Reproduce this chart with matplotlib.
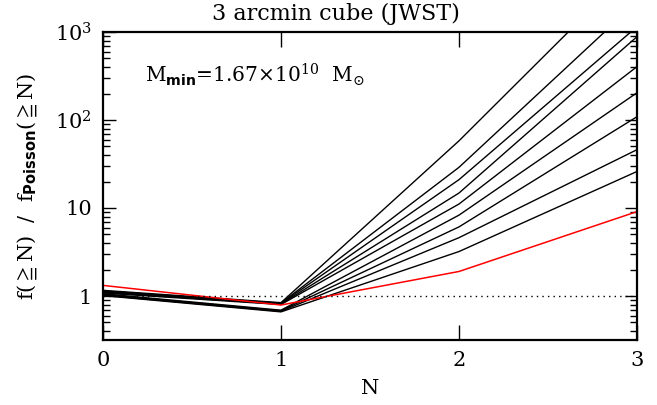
import matplotlib
matplotlib.use('Agg')
import matplotlib.pyplot as plt
from matplotlib.ticker import FixedLocator, LogLocator, NullFormatter, NullLocator

plt.rcParams['font.family'] = ['DejaVu Serif', 'DejaVu Sans']
plt.rcParams['mathtext.fontset'] = 'custom'
plt.rcParams['mathtext.rm'] = 'DejaVu Serif'
plt.rcParams['mathtext.it'] = 'DejaVu Serif:italic'
plt.rcParams['mathtext.bf'] = 'DejaVu Sans:bold'
plt.rcParams['mathtext.fallback'] = 'stix'

# number of objects N and the ratio f(>=N)/f_Poisson(>=N) for each model
n_vals = [0, 1, 2, 3]
ratio_n0 = [1.16, 1.14, 1.12, 1.10, 1.08, 1.06, 1.04, 1.02, 1.01]
ratio_n1 = [0.84, 0.83, 0.82, 0.81, 0.80, 0.69, 0.68, 0.67, 0.66]
ratio_n2 = [58, 29, 21, 14.8, 11.1, 8.3, 6.1, 4.6, 3.2]
ratio_n3 = [6000, 2200, 1150, 885, 404, 204, 109, 46, 26]
ratio_red = [1.32, 0.79, 1.9, 9.1]

y_ticks = [1, 10, 100, 1000]
y_labels = ['1', '10', '$10^2$', '$10^3$']

fig = plt.figure(figsize=(6.57, 4.05), dpi=100)
ax = fig.add_axes([103 / 657, 1 - 340 / 405, 534 / 657, 308 / 405])

for r0, r1, r2, r3 in zip(ratio_n0, ratio_n1, ratio_n2, ratio_n3):
    ax.plot(n_vals, [r0, r1, r2, r3], color='black', lw=1.0)
ax.plot(n_vals, ratio_red, color='red', lw=1.1)
ax.plot([0, 3], [1, 1], color='black', lw=1.0, linestyle=(0, (1, 3)))

ax.set_yscale('log')
ax.set_xlim(0, 3)
ax.set_ylim(10 ** -0.5, 1000)

ax.xaxis.set_major_locator(FixedLocator([0, 1, 2, 3]))
ax.xaxis.set_minor_locator(NullLocator())
ax.set_xticklabels(['0', '1', '2', '3'])
ax.yaxis.set_major_locator(FixedLocator(y_ticks))
ax.yaxis.set_minor_locator(LogLocator(base=10, subs=range(2, 10)))
ax.yaxis.set_minor_formatter(NullFormatter())
ax.set_yticklabels(y_labels)

ax.tick_params(which='both', direction='in', top=True, right=True, labelsize=15)
ax.tick_params(axis='x', which='major', length=11, width=1, pad=8)
ax.tick_params(axis='y', which='major', length=9, width=1, pad=8)
ax.tick_params(axis='y', which='minor', length=5, width=1)
for s in ax.spines.values():
    s.set_linewidth(1.6)

ax.set_xlabel('N', fontsize=15)
ax.xaxis.set_label_coords(0.5, -0.125)
ax.set_ylabel(r'f($\geqq$N)  /  f$_{\mathbf{Poisson}}$($\geqq$N)', fontsize=15)
ax.yaxis.set_label_coords(-0.12, 0.5)

ax.text(0.079, 0.86, r'M$_{\mathbf{min}}$=1.67×10$^{10}$  M$_{\odot}$',
        transform=ax.transAxes, fontsize=14.5, va='center', ha='left')

fig.text(0.5 + 7 / 657, 1 - 14 / 405, '3 arcmin cube (JWST)', fontsize=16,
         ha='center', va='center')

fig.savefig('out.png', dpi=100)
